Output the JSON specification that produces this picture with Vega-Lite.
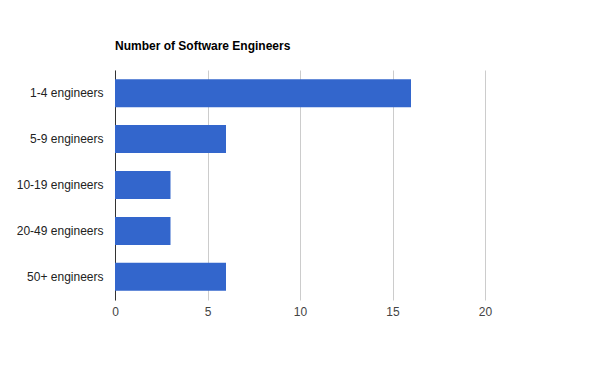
{
  "$schema": "https://vega.github.io/schema/vega-lite/v6.json",
  "autosize": {"type": "none"},
  "width": 370,
  "height": 230,
  "padding": {"left": 115, "top": 70, "right": 115, "bottom": 71},
  "background": "white",
  "title": {
    "text": "Number of Software Engineers",
    "anchor": "start",
    "frame": "group",
    "font": "Liberation Sans",
    "fontSize": 12,
    "fontWeight": "bold",
    "color": "#000000",
    "baseline": "alphabetic",
    "offset": 8
  },
  "data": {
    "values": [
      {"category": "1-4 engineers", "count": 16},
      {"category": "5-9 engineers", "count": 6},
      {"category": "10-19 engineers", "count": 3},
      {"category": "20-49 engineers", "count": 3},
      {"category": "50+ engineers", "count": 6}
    ]
  },
  "mark": {"type": "bar", "color": "#3366cc"},
  "encoding": {
    "y": {
      "field": "category",
      "type": "nominal",
      "sort": null,
      "scale": {"paddingInner": 0.39, "paddingOuter": 0.2},
      "axis": {
        "title": null,
        "ticks": false,
        "labelFont": "Liberation Sans",
        "labelFontSize": 12,
        "labelColor": "#222222",
        "labelPadding": 12,
        "domainColor": "#333333",
        "domainWidth": 1,
        "grid": false
      }
    },
    "x": {
      "field": "count",
      "type": "quantitative",
      "scale": {"domain": [0, 20], "nice": false},
      "axis": {
        "title": null,
        "values": [0, 5, 10, 15, 20],
        "ticks": false,
        "domain": false,
        "grid": true,
        "gridColor": "#cccccc",
        "labelFlush": false,
        "labelFont": "Liberation Sans",
        "labelFontSize": 12,
        "labelColor": "#444444",
        "labelPadding": 6
      }
    }
  },
  "config": {"view": {"stroke": null}}
}
